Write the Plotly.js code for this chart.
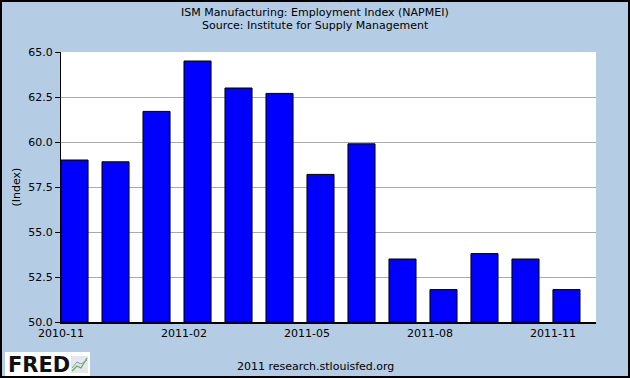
<!DOCTYPE html>
<html>
<head>
<meta charset="utf-8">
<script src="https://cdn.plot.ly/plotly-3.0.1.min.js"></script>
<style>
  html, body { margin: 0; padding: 0; background: #B4CDE4; }
  #wrap { position: relative; width: 630px; height: 378px; }
  #chart { width: 630px; height: 378px; }
  #frame { position: absolute; left: 0; top: 0; width: 626px; height: 374px; border: 2px solid #000; pointer-events: none; }
</style>
</head>
<body>
<div id="wrap">
  <div id="chart"></div>
  <div id="frame"></div>
</div>
<script>
const categories = ['2010-11','2010-12','2011-01','2011-02','2011-03','2011-04','2011-05','2011-06','2011-07','2011-08','2011-09','2011-10','2011-11'];
const values = [59.0, 58.9, 61.7, 64.5, 63.0, 62.7, 58.2, 59.9, 53.5, 51.8, 53.8, 53.5, 51.8];
const tickLabels = ['2010-11','2011-02','2011-05','2011-08','2011-11'];
const yTicks = [50, 52.5, 55, 57.5, 60, 62.5, 65];

const xIdx = categories.map((c, i) => i);
const tickVals = tickLabels.map(t => categories.indexOf(t));

const font = 'DejaVu Sans, sans-serif';
const W = 535, H = 270; // plot area size in px
const px = x => (x - 61) / W;
const py = y => (322 - y) / H;

const trace = {
  type: 'bar',
  x: xIdx,
  y: values.map(v => v - 50),
  base: 50,
  width: 0.66,
  offset: 0,
  marker: { color: '#0000FF', line: { color: '#000000', width: 1 } },
  hoverinfo: 'skip'
};

const layout = {
  width: 630, height: 378,
  paper_bgcolor: '#B4CDE4',
  plot_bgcolor: '#FFFFFF',
  margin: { l: 61, r: 34, t: 52, b: 56 },
  showlegend: false,
  font: { family: font, size: 11, color: '#000' },
  xaxis: {
    range: [0, 13.05],
    tickmode: 'array',
    tickvals: tickVals,
    ticktext: tickLabels,
    ticks: '',
    showgrid: false,
    zeroline: false,
    showline: true, linecolor: '#000', linewidth: 2,
    tickfont: { family: font, size: 11, color: '#000' },
    fixedrange: true
  },
  yaxis: {
    range: [50, 65],
    tickmode: 'array',
    tickvals: yTicks,
    ticktext: yTicks.map(v => v.toFixed(1)),
    ticks: 'outside', ticklen: 5, tickcolor: '#000', tickwidth: 1,
    showgrid: true, gridcolor: '#AAAAAA', gridwidth: 1,
    zeroline: false,
    showline: true, linecolor: '#000', linewidth: 1,
    tickfont: { family: font, size: 11, color: '#000' },
    title: { text: '(Index)', font: { family: font, size: 11, color: '#000' }, standoff: 5 },
    fixedrange: true
  },
  shapes: [
    { type: 'rect', xref: 'paper', yref: 'paper', x0: px(5), x1: px(90), y0: py(376), y1: py(352),
      fillcolor: '#FFFFFF', line: { width: 0 }, layer: 'above' },
    { type: 'rect', xref: 'paper', yref: 'paper', x0: px(71), x1: px(88), y0: py(373), y1: py(356),
      fillcolor: '#E4E8EC', line: { width: 0 }, layer: 'above' },
    { type: 'path', xref: 'paper', yref: 'paper',
      path: 'M ' + px(72) + ' ' + py(371) + ' L ' + px(77) + ' ' + py(366) + ' L ' + px(81) + ' ' + py(368) + ' L ' + px(87) + ' ' + py(358),
      line: { color: '#6AA84F', width: 1.2 }, layer: 'above' },
    { type: 'path', xref: 'paper', yref: 'paper',
      path: 'M ' + px(72) + ' ' + py(368) + ' L ' + px(77) + ' ' + py(362) + ' L ' + px(81) + ' ' + py(364) + ' L ' + px(87) + ' ' + py(360),
      line: { color: '#7799BB', width: 1 }, layer: 'above' }
  ],
  annotations: [
    { text: 'ISM Manufacturing: Employment Index (NAPMEI)', xref: 'paper', yref: 'paper', x: px(315), y: py(12),
      xanchor: 'center', yanchor: 'middle', showarrow: false,
      font: { family: font, size: 11, color: '#000' } },
    { text: 'Source: Institute for Supply Management', xref: 'paper', yref: 'paper', x: px(315), y: py(26),
      xanchor: 'center', yanchor: 'middle', showarrow: false,
      font: { family: font, size: 11, color: '#000' } },
    { text: '<b>FRED</b>', xref: 'paper', yref: 'paper', x: px(6), y: py(365),
      xanchor: 'left', yanchor: 'middle', showarrow: false,
      font: { family: 'DejaVu Sans, sans-serif', size: 21, color: '#111' } },
    { text: '2011 research.stlouisfed.org', xref: 'paper', yref: 'paper', x: px(315), y: py(366),
      xanchor: 'center', yanchor: 'middle', showarrow: false,
      font: { family: font, size: 11, color: '#000' } }
  ]
};

Plotly.newPlot('chart', [trace], layout, { displayModeBar: false, staticPlot: true });
</script>
</body>
</html>
